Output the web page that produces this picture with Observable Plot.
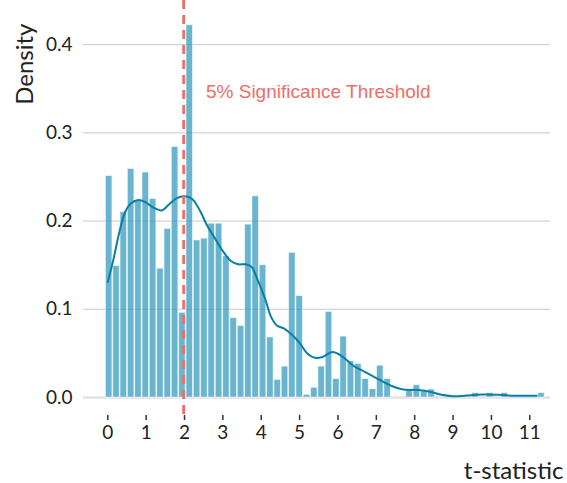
<!DOCTYPE html>
<html>
<head>
<meta charset="utf-8">
<script src="https://cdn.jsdelivr.net/npm/d3@7"></script>
<script src="https://cdn.jsdelivr.net/npm/@observablehq/plot@0.6"></script>
<style>
  html, body { margin: 0; padding: 0; background: #fff; }
</style>
</head>
<body>
<div id="chart"></div>
<script>
// Histogram definition (60 equal-width bins) and densities
const binStart = -0.06;
const binWidth = 0.191;
const density = [
  0.251, 0.149, 0.210, 0.259, 0.223, 0.255, 0.225, 0.146, 0.191, 0.284,
  0.096, 0.422, 0.178, 0.180, 0.197, 0.197, 0.160, 0.090, 0.081, 0.196,
  0.228, 0.150, 0.068, 0.020, 0.035, 0.164, 0.115, 0.003, 0.011, 0.035,
  0.097, 0.021, 0.069, 0.041, 0.038, 0.021, 0.0095, 0.036, 0.021, 0,
  0, 0.008, 0.014, 0.007, 0.009, 0, 0, 0, 0, 0,
  0.005, 0, 0.005, 0, 0.005, 0, 0, 0, 0, 0.005
];

// Kernel density curve
const kdeX = [0.0, 0.15, 0.3, 0.45, 0.6, 0.8, 1.0, 1.2, 1.4, 1.6, 1.8, 2.0, 2.2, 2.4, 2.6, 2.8, 3.0, 3.2, 3.4, 3.6, 3.75, 3.9, 4.1, 4.25, 4.4, 4.6, 4.8, 5.0, 5.2, 5.4, 5.6, 5.85, 6.1, 6.4, 6.7, 7.0, 7.4, 7.7, 8.1, 8.45, 8.7, 9.0, 9.3, 9.75, 10.2, 10.6, 11.18];
const kdeY = [0.131, 0.157, 0.187, 0.210, 0.220, 0.224, 0.221, 0.215, 0.212, 0.219, 0.226, 0.228, 0.225, 0.212, 0.194, 0.180, 0.166, 0.155, 0.151, 0.151, 0.148, 0.134, 0.112, 0.092, 0.082, 0.078, 0.071, 0.062, 0.050, 0.045, 0.046, 0.0515, 0.047, 0.036, 0.029, 0.022, 0.013, 0.009, 0.0085, 0.006, 0.003, 0.0015, 0.002, 0.0035, 0.003, 0.002, 0.002];

const xTicks = [0, 1, 2, 3, 4, 5, 6, 7, 8, 9, 10, 11];
const yTicks = [0.0, 0.1, 0.2, 0.3, 0.4];
const threshold = 1.96;
const thresholdLabel = "5% Significance Threshold";
const xLabel = "t-statistic";
const yLabel = "Density";

const bins = density
  .map((d, i) => ({x1: binStart + i * binWidth, x2: binStart + (i + 1) * binWidth, y: d}))
  .filter(b => b.y > 0);
const kde = kdeX.map((x, i) => ({x, y: kdeY[i]}));

const red = "#ee6e64";
const font = "Lato, 'Noto Sans', sans-serif";

const chart = Plot.plot({
  width: 567,
  height: 483,
  marginLeft: 83,
  marginRight: 17,
  marginTop: 0,
  marginBottom: 86,
  style: {fontFamily: font, background: "#fff", color: "#222"},
  x: {domain: [-0.633, 11.54]},
  y: {domain: [0, 0.45]},
  marks: [
    Plot.gridY(yTicks, {stroke: "#c8c8c8", strokeOpacity: 1, strokeWidth: 1}),
    Plot.ruleY([0], {stroke: "#e2e2e2", strokeWidth: 2.5}),
    Plot.rectY(bins, {
      x1: "x1", x2: "x2", y: "y",
      fill: "#2f98bd", fillOpacity: 0.72,
      stroke: "#ffffff", strokeOpacity: 0.55, strokeWidth: 1,
      insetLeft: 0.4, insetRight: 0.4
    }),
    Plot.line(kde, {x: "x", y: "y", stroke: "#0a7fa6", strokeWidth: 2, curve: "catmull-rom"}),
    Plot.ruleX([threshold], {stroke: red, strokeWidth: 2.8, strokeDasharray: "9,6", insetBottom: -19, dx: 0.7}),
    Plot.text([thresholdLabel], {
      x: () => threshold, frameAnchor: "top", textAnchor: "start", lineAnchor: "bottom",
      dx: 23, dy: 97, fill: red, fontSize: 19, fontFamily: "'Liberation Sans', Arial, sans-serif"
    }),
    Plot.axisY(yTicks, {
      tickSize: 0, tickPadding: 11, fontSize: 19, label: null,
      tickFormat: d3.format(".1f"), fill: "#222"
    }),
    Plot.axisX(xTicks, {
      tickSize: 5, tickPadding: 5, dy: 18, fontSize: 19, label: null,
      stroke: "#333", strokeWidth: 1.5, fill: "#222", tickFormat: d => String(d)
    }),
    Plot.text([yLabel], {
      frameAnchor: "top-left", rotate: -90, textAnchor: "end", lineAnchor: "bottom",
      dx: -51, dy: 23, fontSize: 24, fill: "#222"
    }),
    Plot.text([xLabel], {
      frameAnchor: "bottom-right", textAnchor: "end", lineAnchor: "bottom",
      dx: 13, dy: 81, fontSize: 24, fill: "#222"
    })
  ]
});
document.getElementById("chart").appendChild(chart);
</script>
</body>
</html>
